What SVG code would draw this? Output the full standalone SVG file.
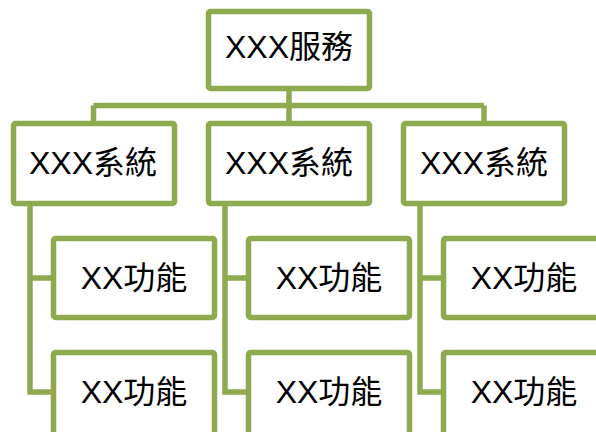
<svg xmlns="http://www.w3.org/2000/svg" width="596" height="432" viewBox="0 0 596 432">
<style>
.box{fill:#ffffff;stroke:#8EAA4F;stroke-width:5.5}
.ln{fill:none;stroke:#8EAA4F;stroke-width:5.5;stroke-linejoin:miter}
text{font-family:"Liberation Sans","Noto Sans CJK TC",sans-serif;font-size:32px;fill:#000;text-anchor:middle}
</style>
<rect width="596" height="432" fill="#ffffff"/>
<g id="connectors">
<path class="ln" d="M289,91 V105.5 M93.5,105.5 H484 M93.5,105.5 V121 M289,105.5 V121 M484,105.5 V121"/>
<path class="ln" d="M30,206 V392 H51 M30,278 H51"/>
<path class="ln" d="M225,206 V392 H246 M225,278 H246"/>
<path class="ln" d="M420,206 V392 H441 M420,278 H441"/>
</g>
<g id="top"><rect class="box" x="208.5" y="11.5" width="161" height="77" rx="2"/><text x="289" y="58">XXX服務</text></g>
<g id="sys1"><rect class="box" x="13.5" y="123.5" width="161" height="80" rx="2"/><text x="93" y="174">XXX系統</text></g>
<g id="sys2"><rect class="box" x="208.5" y="123.5" width="161" height="80" rx="2"/><text x="289" y="174">XXX系統</text></g>
<g id="sys3"><rect class="box" x="403.5" y="123.5" width="161" height="80" rx="2"/><text x="484" y="174">XXX系統</text></g>
<g id="f11"><rect class="box" x="53.5" y="238.5" width="161" height="79" rx="2"/><text x="134" y="289">XX功能</text></g>
<g id="f12"><rect class="box" x="53.5" y="352.5" width="161" height="95" rx="2"/><text x="134" y="403">XX功能</text></g>
<g id="f21"><rect class="box" x="248.5" y="238.5" width="161" height="79" rx="2"/><text x="329" y="289">XX功能</text></g>
<g id="f22"><rect class="box" x="248.5" y="352.5" width="161" height="95" rx="2"/><text x="329" y="403">XX功能</text></g>
<g id="f31"><rect class="box" x="443.5" y="238.5" width="161" height="79" rx="2"/><text x="524" y="289">XX功能</text></g>
<g id="f32"><rect class="box" x="443.5" y="352.5" width="161" height="95" rx="2"/><text x="524" y="403">XX功能</text></g>
</svg>
